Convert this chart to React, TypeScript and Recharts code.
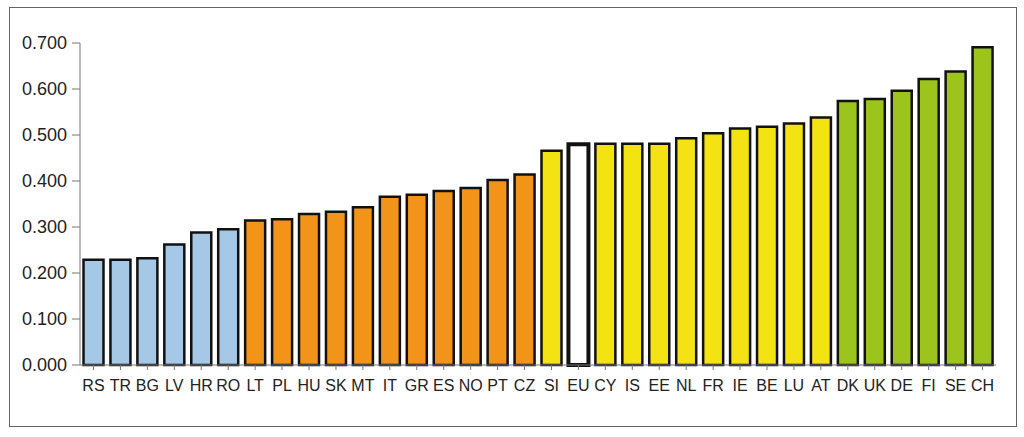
import React from "react";
import { BarChart, Bar, XAxis, YAxis, Cell } from "recharts";

const countries = [
  "RS", "TR", "BG", "LV", "HR", "RO",
  "LT", "PL", "HU", "SK", "MT", "IT", "GR", "ES", "NO", "PT", "CZ",
  "SI", "EU", "CY", "IS", "EE", "NL", "FR", "IE", "BE", "LU", "AT",
  "DK", "UK", "DE", "FI", "SE", "CH",
];

const scores = [
  0.229, 0.229, 0.232, 0.262, 0.288, 0.295,
  0.314, 0.317, 0.328, 0.333, 0.343, 0.366, 0.37, 0.378, 0.385, 0.402, 0.414,
  0.466, 0.48, 0.481, 0.481, 0.481, 0.493, 0.504, 0.514, 0.518, 0.525, 0.538,
  0.574, 0.578, 0.596, 0.622, 0.638, 0.691,
];

// group per country: low / mid / high / top, "avg" for the EU reference bar
const groups = [
  "low", "low", "low", "low", "low", "low",
  "mid", "mid", "mid", "mid", "mid", "mid", "mid", "mid", "mid", "mid", "mid",
  "high", "avg", "high", "high", "high", "high", "high", "high", "high", "high", "high",
  "top", "top", "top", "top", "top", "top",
];

const yTicks = [0, 0.1, 0.2, 0.3, 0.4, 0.5, 0.6, 0.7];

const groupColors: Record<string, string> = {
  low: "#a5c8e6",
  mid: "#f29419",
  high: "#f4e313",
  top: "#9dc41c",
  avg: "#ffffff",
};

const data = countries.map((name, i) => ({
  name,
  value: scores[i],
  group: groups[i],
}));

const App: React.FC = () => {
  return (
    <div
      style={{
        position: "absolute",
        left: 0,
        top: 0,
        width: 1024,
        height: 437,
        background: "#fff",
        fontFamily: "'Liberation Sans', Arial, sans-serif",
      }}
    >
      <div
        style={{
          position: "absolute",
          left: 9,
          top: 7,
          width: 1006,
          height: 418,
          border: "1.5px solid #666",
        }}
      />
      <div style={{ position: "absolute", left: 0, top: 0 }}>
        <BarChart
          width={1024}
          height={437}
          data={data}
          margin={{ top: 43, right: 28, left: 0, bottom: 42 }}
          barCategoryGap="13%"
        >
          <XAxis
            dataKey="name"
            interval={0}
            axisLine={{ stroke: "#777" }}
            tickLine={{ stroke: "#777" }}
            tickSize={5}
            tickMargin={10}
            tick={{ fill: "#222", fontSize: 16 }}
            height={30}
          />
          <YAxis
            width={80}
            domain={[0, 0.7]}
            ticks={yTicks}
            tickFormatter={(v: number) => v.toFixed(3)}
            axisLine={{ stroke: "#777" }}
            tickLine={{ stroke: "#777" }}
            tickSize={8}
            tickMargin={5}
            tick={{ fill: "#222", fontSize: 18 }}
          />
          <Bar dataKey="value" isAnimationActive={false}>
            {data.map((d) => (
              <Cell
                key={d.name}
                fill={groupColors[d.group]}
                stroke="#111"
                strokeWidth={d.group === "avg" ? 4 : 2.5}
              />
            ))}
          </Bar>
        </BarChart>
      </div>
    </div>
  );
};

export default App;
